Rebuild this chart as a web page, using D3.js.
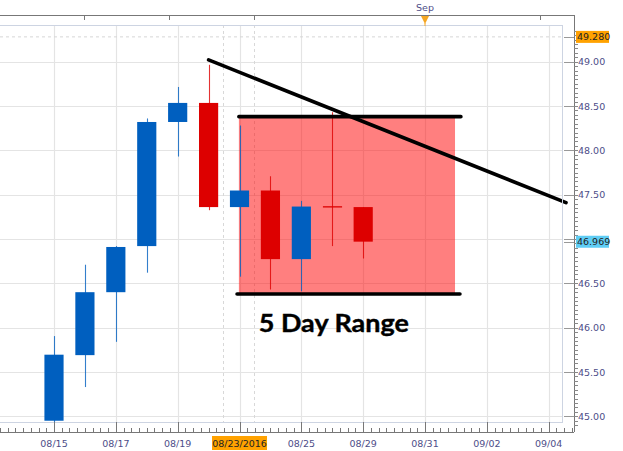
<!DOCTYPE html>
<html><head><meta charset="utf-8">
<script src="https://cdn.jsdelivr.net/npm/d3@7"></script>
<style>body{margin:0;background:#fff}svg{display:block}</style>
</head><body>
<svg id="c" width="623" height="451"></svg>
<script>
// ---- data ----
const dayLabels = ["08/15","08/16","08/17","08/18","08/19","08/22","08/23","08/24","08/25","08/26","08/29"];
const opens  = [44.95, 45.69, 46.40, 46.92, 48.32, 48.535, 47.36, 47.547, 46.773, 47.37, 47.36];
const highs  = [45.905,46.71, 46.92, 48.36, 48.715,48.965, 48.28, 47.708, 47.43, 48.43, 47.36];
const lows   = [44.93, 45.33, 45.84, 46.62, 47.93, 47.325, 46.575,46.43, 46.41, 46.92, 46.78];
const closes = [45.695,46.40, 46.91, 48.32, 48.535,47.36, 47.547,46.773, 47.366, 47.355,46.97];
const xTickIdx    = [0, 2, 4, 6, 8, 10, 12, 14, 16];
const xTickLabels = ["08/15","08/17","08/19","08/23/2016","08/25","08/29","08/31","09/02","09/04"];
const yTicks = [45.0, 45.5, 46.0, 46.5, 47.0, 47.5, 48.0, 48.5, 49.0];
const lastPrice = 46.969, highMark = 49.280;
const sepIdx = 12;
const topTickIdx = [0.97, 3.72, 6.47, 15.72];
const dashedIdx = [5.47, 6.47];
const trendLine = [[5, 49.02], [16.56, 47.41]];
const rangeTop = 48.38, rangeBottom = 46.38;
const rangeLineStart = [5.98, 5.92], rangeLineEnd = [13.16, 13.13];
const rangeRect = [5.98, 12.97];
const rangeText = "5 Day Range";
const rangeTextPos = [9.05, 45.95];

// ---- layout ----
const svg = d3.select("#c");
const box = {l:0, t:25, r:563, b:422};
const axisX = 574, axisY = 432, topY = 15;
const x = d3.scaleLinear().domain([0,16]).range([54, 548.7]);
const y = d3.scaleLinear().domain([45,49]).range([416.3, 61.7]);
const step = x(1)-x(0);
const gridC = "#e4e4e4", txtC = "#4d4d88";
const BLUE = "#005fbf", RED = "#dd0000";

svg.append("rect").attr("width",623).attr("height",451).attr("fill","#fff");
svg.append("defs").append("clipPath").attr("id","pc").append("rect")
  .attr("x",box.l).attr("y",box.t).attr("width",box.r-box.l).attr("height",box.b-box.t);

const plot = svg.append("g").attr("clip-path","url(#pc)");
// grid
yTicks.forEach(v=>plot.append("line").attr("x1",box.l).attr("x2",box.r).attr("y1",Math.round(y(v))+0.5).attr("y2",Math.round(y(v))+0.5).attr("stroke",gridC).attr("stroke-width",1.2));
xTickIdx.forEach(v=>plot.append("line").attr("y1",box.t).attr("y2",box.b).attr("x1",Math.round(x(v))+0.5).attr("x2",Math.round(x(v))+0.5).attr("stroke",gridC).attr("stroke-width",1.2));
plot.append("line").attr("x1",box.l).attr("x2",box.r).attr("y1",y(highMark)).attr("y2",y(highMark)).attr("stroke","#d6d6d6").attr("stroke-dasharray","3,3");
dashedIdx.forEach(v=>plot.append("line").attr("y1",box.t).attr("y2",box.b).attr("x1",Math.round(x(v))+0.5).attr("x2",Math.round(x(v))+0.5).attr("stroke","#d8d8d8").attr("stroke-dasharray","3,3"));

// range rect
plot.append("rect").attr("x",x(rangeRect[0])).attr("width",x(rangeRect[1])-x(rangeRect[0]))
  .attr("y",y(rangeTop)).attr("height",y(rangeBottom)-y(rangeTop)).attr("fill","#ff0000").attr("fill-opacity",0.5);

// candles
const bw = step*0.62;
dayLabels.forEach((d,i)=>{
  const up = closes[i] >= opens[i];
  const col = up ? BLUE : RED;
  const cx = Math.round(x(i))+0.5;
  plot.append("line").attr("x1",cx).attr("x2",cx).attr("y1",y(highs[i])).attr("y2",y(lows[i])).attr("stroke",col).attr("stroke-width",1.1).attr("stroke-opacity",0.8);
  const yt = y(Math.max(opens[i],closes[i])), yb = y(Math.min(opens[i],closes[i]));
  if (yb-yt < 1.5) {
    plot.append("line").attr("x1",cx-bw/2).attr("x2",cx+bw/2).attr("y1",(yt+yb)/2).attr("y2",(yt+yb)/2).attr("stroke",col).attr("stroke-width",1.3);
  } else {
    plot.append("rect").attr("x",x(i)-bw/2).attr("width",bw).attr("y",yt).attr("height",yb-yt).attr("fill",col);
  }
});

// drawn lines
const lineG = svg.append("g");
lineG.append("line").attr("x1",x(trendLine[0][0])).attr("y1",y(trendLine[0][1])).attr("x2",x(trendLine[1][0])).attr("y2",y(trendLine[1][1])).attr("stroke","#000").attr("stroke-width",3.6).attr("stroke-linecap","round");
lineG.append("line").attr("x1",x(rangeLineStart[0])).attr("x2",x(rangeLineEnd[0])).attr("y1",y(rangeTop)).attr("y2",y(rangeTop)).attr("stroke","#000").attr("stroke-width",3.6).attr("stroke-linecap","round");
lineG.append("line").attr("x1",x(rangeLineStart[1])).attr("x2",x(rangeLineEnd[1])).attr("y1",y(rangeBottom)).attr("y2",y(rangeBottom)).attr("stroke","#000").attr("stroke-width",3.6).attr("stroke-linecap","round");
svg.append("text").attr("x",x(rangeTextPos[0])).attr("y",y(rangeTextPos[1])).attr("text-anchor","middle")
  .attr("font-family","Lato, 'Open Sans', sans-serif").attr("font-weight",700).attr("font-size",25.5)
  .attr("textLength",150).attr("lengthAdjust","spacingAndGlyphs")
  .attr("stroke","#000").attr("stroke-width",0.4).attr("fill","#000").text(rangeText);

// plot border
svg.append("rect").attr("x",box.l-1).attr("y",box.t+0.5).attr("width",box.r-box.l+0.5).attr("height",box.b-box.t).attr("fill","none").attr("stroke","#cdd4e2");

// top axis
svg.append("line").attr("x1",0).attr("x2",axisX).attr("y1",topY+0.5).attr("y2",topY+0.5).attr("stroke","#777");
topTickIdx.forEach(v=>svg.append("line").attr("x1",Math.round(x(v))+0.5).attr("x2",Math.round(x(v))+0.5).attr("y1",topY).attr("y2",topY+5).attr("stroke","#777"));
svg.append("text").attr("x",x(sepIdx)).attr("y",11).attr("text-anchor","middle").attr("font-family","DejaVu Sans, sans-serif").attr("font-size",9.5).attr("fill",txtC).text("Sep");
const sx = x(sepIdx);
svg.append("path").attr("d",`M${sx-4},${topY+1}L${sx+4},${topY+1}L${sx},${topY+9}Z`).attr("fill","#f5a623");
svg.append("line").attr("x1",sx).attr("x2",sx).attr("y1",topY+8).attr("y2",topY+11).attr("stroke","#f5a623");

// right axis
svg.append("line").attr("x1",axisX+0.5).attr("x2",axisX+0.5).attr("y1",topY).attr("y2",axisY).attr("stroke","#777");
d3.range(449, 494, 0.5).map(v=>v/10).forEach(v=>{
  const yy = Math.round(y(v))+0.5;
  if (yy>topY && yy<axisY) svg.append("line").attr("x1",axisX).attr("x2",axisX+4).attr("y1",yy).attr("y2",yy).attr("stroke","#888");
});
const yAxisG = svg.append("g").attr("transform",`translate(${axisX},0)`);
yAxisG.call(d3.axisRight(y).tickValues(yTicks.filter(v=>v!==47.0)).tickFormat(d3.format(".2f")).tickSize(0).tickPadding(4))
  .call(g=>g.select(".domain").remove())
  .call(g=>g.selectAll("text").attr("font-family","DejaVu Sans, sans-serif").attr("font-size",9.5).attr("fill",txtC));
yTicks.forEach(v=>svg.append("line").attr("x1",box.r+1).attr("x2",axisX).attr("y1",Math.round(y(v))+0.5).attr("y2",Math.round(y(v))+0.5).attr("stroke","#999"));
// price tags
function tag(v, fill){
  const yy = y(v);
  svg.append("line").attr("x1",box.r+1).attr("x2",axisX).attr("y1",Math.round(yy)+0.5).attr("y2",Math.round(yy)+0.5).attr("stroke","#999");
  svg.append("rect").attr("x",axisX+2).attr("y",yy-6).attr("width",33).attr("height",12).attr("fill",fill);
  svg.append("text").attr("x",axisX+3).attr("y",yy+3.5).attr("font-family","DejaVu Sans, sans-serif").attr("font-size",9.5).attr("fill","#222").text(d3.format(".3f")(v));
}
tag(highMark,"#ffa200");
tag(lastPrice,"#5fcdf5");

// bottom axis
svg.append("line").attr("x1",0).attr("x2",axisX).attr("y1",axisY+0.5).attr("y2",axisY+0.5).attr("stroke","#777");
d3.range(-7, 70).map(k=>k/4).forEach(v=>{
  const xx = Math.round(x(v))+0.5;
  if (xx<0 || xx>axisX) return;
  const major = xTickIdx.includes(v);
  svg.append("line").attr("x1",xx).attr("x2",xx).attr("y1",major?box.b:axisY-4).attr("y2",axisY).attr("stroke","#777");
});
xTickIdx.forEach((v,k)=>{
  const lab = xTickLabels[k];
  if (lab.length>5){
    svg.append("rect").attr("x",x(v)-27.5).attr("y",436).attr("width",55).attr("height",14).attr("fill","#ffa200");
  }
  svg.append("text").attr("x",x(v)).attr("y",446.5).attr("text-anchor","middle").attr("font-family","DejaVu Sans, sans-serif").attr("font-size",9.5)
    .attr("fill",lab.length>5?"#222":txtC).text(lab);
});
</script>
</body></html>
